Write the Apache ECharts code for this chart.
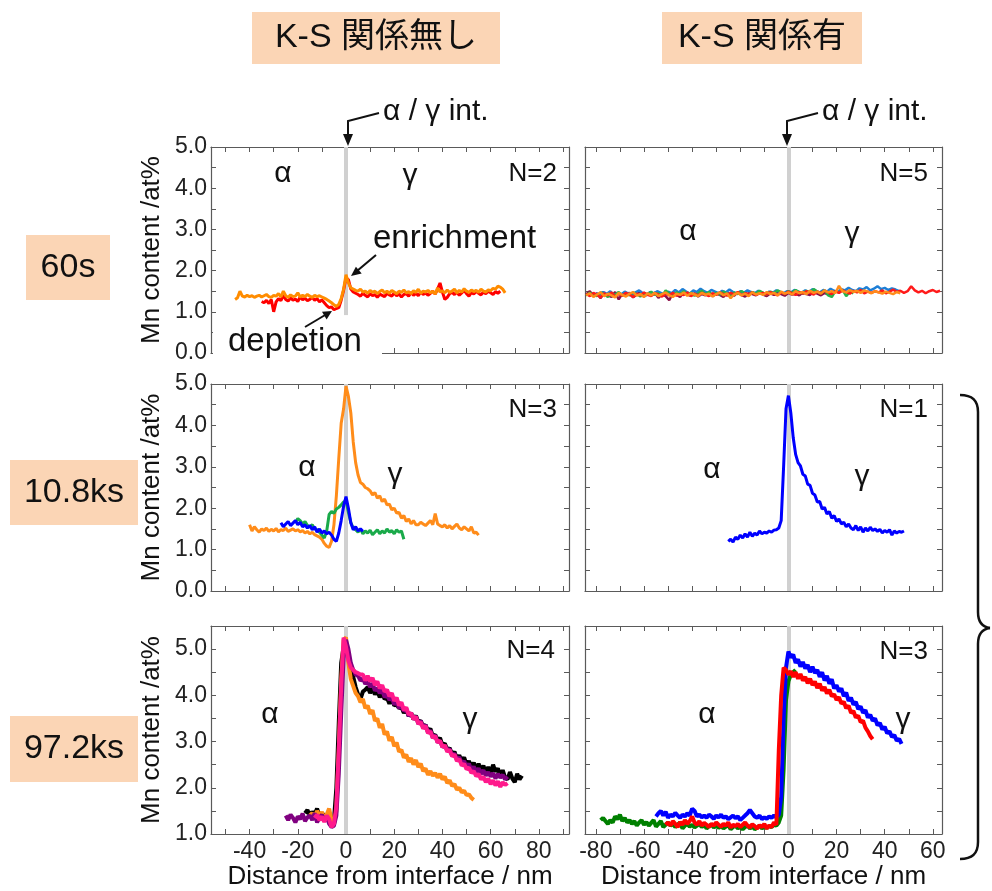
<!DOCTYPE html>
<html>
<head>
<meta charset="utf-8">
<script src="https://cdn.jsdelivr.net/npm/echarts@6/dist/echarts.min.js"></script>
<style>
html, body { margin: 0; padding: 0; background: #fff; }
#container { width: 992px; height: 891px; }
</style>
</head>
<body>
<div id="container"></div>
<script>
// ---- data (x in nm, y in at% Mn) ----
var interfaceX = 0;

var xTicksL = [-50, -40, -30, -20, -10, 0, 10, 20, 30, 40, 50, 60, 70, 80, 90];
var xLabelsL = [-40, -20, 0, 20, 40, 60, 80];
var xTicksR = [-80, -70, -60, -50, -40, -30, -20, -10, 0, 10, 20, 30, 40, 50, 60];
var xLabelsR = [-80, -60, -40, -20, 0, 20, 40, 60];
var yTicksA = [0, 0.5, 1, 1.5, 2, 2.5, 3, 3.5, 4, 4.5, 5];
var yLabelsA = [0, 1, 2, 3, 4, 5];
var yTicksB = [1, 1.5, 2, 2.5, 3, 3.5, 4, 4.5, 5];
var yLabelsB = [1, 2, 3, 4, 5];

// 60s, K-S none (N=2)
var s60_orange = [
  1.30,1.34,1.50,1.38,1.36,1.40,1.37,1.39,1.35,1.38,
  1.40,1.36,1.39,1.42,1.37,1.35,1.40,1.38,1.44,1.36,
  1.50,1.39,1.35,1.41,1.37,1.38,1.46,1.36,1.40,1.37,
  1.42,1.38,1.35,1.40,1.37,1.39,1.36,1.33,1.30,1.26,
  1.22,1.17,1.13,1.18,1.32,1.55,1.90,1.70,1.58,1.55,
  1.52,1.50,1.55,1.48,1.50,1.45,1.52,1.47,1.50,1.44,
  1.49,1.53,1.46,1.50,1.45,1.52,1.48,1.44,1.50,1.47,
  1.53,1.46,1.49,1.44,1.51,1.47,1.55,1.45,1.50,1.48,
  1.52,1.46,1.50,1.43,1.58,1.48,1.51,1.46,1.53,1.47,
  1.50,1.55,1.46,1.52,1.48,1.56,1.50,1.47,1.53,1.49,
  1.52,1.47,1.55,1.50,1.48,1.53,1.51,1.57,1.55,1.62,
  1.60,1.55,1.46];
var s60_red = [
  1.25,1.22,1.28,1.20,1.30,1.00,1.24,1.32,1.27,1.40,
  1.30,1.26,1.34,1.28,1.31,1.25,1.36,1.29,1.33,1.27,
  1.30,1.35,1.28,1.32,1.24,1.29,1.22,1.15,1.10,1.12,
  1.05,1.08,1.10,1.28,1.52,1.82,1.78,1.55,1.48,1.45,
  1.42,1.38,1.45,1.40,1.36,1.44,1.39,1.42,1.35,1.43,
  1.40,1.37,1.45,1.41,1.38,1.46,1.39,1.43,1.36,1.42,
  1.44,1.38,1.47,1.40,1.45,1.39,1.48,1.42,1.46,1.40,
  1.45,1.50,1.43,1.55,1.70,1.48,1.30,1.35,1.44,1.47,
  1.42,1.48,1.40,1.46,1.52,1.44,1.38,1.47,1.43,1.50,
  1.45,1.41,1.48,1.44,1.50,1.46,1.42,1.49,1.45,1.50];

// 60s, K-S (N=5)
var s60ks_maroon = [
  1.42,1.50,1.38,1.45,1.33,1.47,1.40,1.36,1.48,1.30,
  1.44,1.39,1.46,1.35,1.42,1.49,1.37,1.44,1.40,1.47,
  1.34,1.43,1.38,1.28,1.45,1.41,1.36,1.48,1.42,1.39,
  1.45,1.37,1.43,1.40,1.47,1.38,1.44,1.41,1.36,1.46,
  1.42,1.39,1.48,1.41,1.37,1.45,1.43,1.40,1.47,1.42,
  1.38,1.45,1.41,1.48,1.43,1.39,1.46,1.42,1.44,1.40,
  1.47,1.43,1.41,1.49,1.44,1.40,1.46,1.42,1.45,1.48];
var s60ks_blue = [
  1.45,1.40,1.48,1.43,1.50,1.38,1.46,1.42,1.49,1.44,
  1.41,1.47,1.52,1.45,1.40,1.48,1.44,1.50,1.46,1.42,
  1.49,1.45,1.53,1.47,1.55,1.49,1.44,1.52,1.48,1.56,
  1.50,1.46,1.53,1.49,1.45,1.51,1.47,1.54,1.48,1.44,
  1.50,1.46,1.52,1.48,1.45,1.51,1.47,1.43,1.49,1.46,
  1.52,1.48,1.45,1.50,1.47,1.53,1.49,1.46,1.52,1.48,
  1.55,1.50,1.47,1.53,1.49,1.56,1.51,1.48,1.55,1.52,
  1.58,1.53,1.50,1.57,1.54,1.60,1.52,1.56,1.62,1.55,
  1.58,1.53,1.57,1.54,1.50];
var s60ks_green = [
  1.40,1.46,1.43,1.38,1.47,1.42,1.36,1.45,1.41,1.48,
  1.39,1.44,1.40,1.47,1.43,1.37,1.46,1.42,1.49,1.41,
  1.45,1.38,1.52,1.44,1.40,1.47,1.43,1.50,1.42,1.46,
  1.39,1.45,1.51,1.43,1.48,1.41,1.46,1.42,1.49,1.44,
  1.40,1.47,1.43,1.50,1.45,1.41,1.48,1.44,1.51,1.46,
  1.42,1.49,1.45,1.52,1.47,1.43,1.50,1.46,1.53,1.48,
  1.44,1.51,1.47,1.55,1.49,1.45,1.52,1.40,1.36,1.50,
  1.47,1.53,1.38,1.49,1.45];
var s60ks_red = [
  1.44,1.38,1.46,1.41,1.35,1.45,1.40,1.47,1.37,1.43,
  1.39,1.46,1.42,1.36,1.44,1.40,1.47,1.41,1.38,1.45,
  1.42,1.37,1.44,1.40,1.46,1.39,1.43,1.41,1.47,1.38,
  1.44,1.40,1.46,1.42,1.38,1.45,1.41,1.47,1.43,1.39,
  1.46,1.42,1.48,1.40,1.45,1.43,1.47,1.41,1.44,1.46,
  1.42,1.48,1.44,1.40,1.47,1.43,1.49,1.45,1.41,1.48,
  1.44,1.50,1.46,1.42,1.49,1.45,1.51,1.47,1.43,1.50,
  1.46,1.52,1.48,1.44,1.51,1.47,1.53,1.45,1.49,1.46,
  1.50,1.47,1.52,1.45,1.49,1.54,1.48,1.51,1.46,1.50,
  1.62,1.52,1.47,1.51,1.45,1.50,1.53,1.48,1.51];
var s60ks_orange = [
  1.40,1.45,1.36,1.42,1.47,1.38,1.44,1.40,1.35,1.46,
  1.41,1.37,1.44,1.48,1.39,1.43,1.36,1.45,1.40,1.46,
  1.38,1.43,1.47,1.40,1.36,1.44,1.41,1.47,1.39,1.45,
  1.42,1.38,1.46,1.41,1.44,1.37,1.43,1.47,1.40,1.45,
  1.33,1.42,1.46,1.40,1.44,1.38,1.47,1.42,1.45,1.41,
  1.48,1.43,1.46,1.40,1.49,1.44,1.47,1.42,1.50,1.45,
  1.48,1.43,1.51,1.46,1.49,1.44,1.52,1.47,1.50,1.45,
  1.63,1.50,1.47,1.53,1.48,1.51,1.46,1.52,1.49,1.45,
  1.50,1.47,1.44,1.49,1.46,1.43,1.48,1.45];

// 10.8ks, K-S none (N=3)
var s108_orange = [
  1.60,1.45,1.55,1.48,1.42,1.50,1.46,1.52,1.44,1.49,
  1.45,1.51,1.43,1.48,1.46,1.52,1.44,1.47,1.50,1.45,
  1.48,1.43,1.46,1.40,1.44,1.38,1.42,1.36,1.33,1.30,
  1.25,1.15,1.08,1.05,1.20,1.60,2.30,3.20,4.05,4.40,
  4.95,4.70,4.30,3.60,3.10,2.80,2.62,2.58,2.50,2.47,
  2.42,2.32,2.38,2.24,2.30,2.16,2.22,2.08,2.10,1.96,
  2.00,1.88,1.90,1.76,1.82,1.68,1.74,1.62,1.70,1.60,
  1.60,1.66,1.62,1.58,1.64,1.70,1.60,1.87,1.62,1.58,
  1.55,1.60,1.52,1.58,1.50,1.56,1.62,1.52,1.48,1.55,
  1.50,1.45,1.55,1.40,1.42,1.35];
var s108_green = [
  1.65,1.75,1.70,1.62,1.68,1.58,1.55,1.60,1.50,1.48,
  1.42,1.35,1.28,1.45,1.85,1.92,1.88,1.98,2.02,2.08,
  2.15,2.18,1.90,1.65,1.52,1.48,1.42,1.50,1.38,1.45,
  1.40,1.47,1.36,1.42,1.48,1.38,1.45,1.40,1.50,1.42,
  1.46,1.38,1.48,1.42,1.45,1.25];
var s108_blue = [
  1.65,1.55,1.62,1.68,1.58,1.64,1.70,1.60,1.66,1.55,
  1.60,1.52,1.58,1.48,1.55,1.42,1.50,1.40,1.45,1.38,
  1.42,1.35,1.25,1.20,1.40,1.70,2.05,2.28,2.00,1.65,
  1.48,1.55,1.45,1.50,1.44];

// 10.8ks, K-S (N=1)
var s108ks_blue = [
  1.20,1.25,1.18,1.30,1.25,1.35,1.28,1.38,1.30,1.42,
  1.32,1.40,1.35,1.45,1.38,1.42,1.40,1.45,1.42,1.47,
  1.48,1.52,1.70,3.00,4.40,4.72,4.30,3.70,3.30,3.10,
  3.02,2.82,2.78,2.58,2.55,2.36,2.32,2.15,2.16,1.98,
  2.02,1.86,1.92,1.76,1.82,1.68,1.74,1.62,1.66,1.55,
  1.62,1.52,1.48,1.58,1.46,1.55,1.42,1.52,1.45,1.54,
  1.46,1.50,1.44,1.49,1.40,1.46,1.42,1.48,1.35,1.45,
  1.40,1.44,1.42,1.45];

// 97.2ks, K-S none (N=4)
var s972_black = [
  1.45,1.52,1.40,1.48,1.42,1.55,1.38,1.45,1.40,1.35,
  1.28,1.20,1.30,2.00,3.40,4.70,5.05,5.10,4.85,4.60,
  4.40,4.18,4.02,3.92,4.08,4.12,4.18,4.05,4.15,4.02,
  4.10,3.96,4.05,3.92,3.95,3.82,3.92,3.78,3.80,3.72,
  3.75,3.62,3.70,3.55,3.62,3.48,3.56,3.42,3.45,3.32,
  3.36,3.22,3.28,3.12,3.15,3.02,3.08,2.92,2.96,2.82,
  2.86,2.72,2.78,2.62,2.70,2.58,2.66,2.50,2.58,2.46,
  2.54,2.40,2.52,2.36,2.48,2.32,2.45,2.30,2.50,2.35,
  2.42,2.26,2.38,2.22,2.18,2.34,2.20,2.12,2.30,2.18,
  2.26];
var s972_orange = [
  1.40,1.45,1.35,1.50,1.38,1.48,1.32,1.42,1.55,1.30,
  1.20,1.50,2.80,4.30,5.20,5.25,4.70,4.35,4.20,4.05,
  3.98,3.85,3.92,3.72,3.78,3.60,3.68,3.45,3.50,3.30,
  3.38,3.15,3.22,3.02,3.10,2.90,2.98,2.78,2.82,2.65,
  2.72,2.56,2.64,2.50,2.60,2.45,2.52,2.36,2.42,2.28,
  2.36,2.26,2.32,2.22,2.30,2.18,2.24,2.10,2.16,2.04,
  2.08,1.96,2.00,1.90,1.94,1.84,1.86,1.78,1.74];
var s972_purple = [
  1.40,1.30,1.42,1.35,1.25,1.38,1.32,1.44,1.28,1.36,
  1.40,1.30,1.45,1.25,1.35,1.42,1.28,1.38,1.22,1.15,
  1.18,1.40,2.30,3.60,4.80,5.20,5.00,4.70,4.55,4.45,
  4.42,4.32,4.36,4.25,4.30,4.18,4.26,4.10,4.16,4.05,
  4.12,3.96,4.02,3.90,3.96,3.80,3.88,3.72,3.78,3.66,
  3.70,3.55,3.62,3.48,3.55,3.38,3.45,3.30,3.36,3.20,
  3.24,3.08,3.14,2.98,3.02,2.88,2.92,2.80,2.84,2.70,
  2.74,2.62,2.66,2.52,2.58,2.45,2.52,2.38,2.46,2.34,
  2.42,2.30,2.38,2.26,2.34,2.24,2.32,2.20,2.30,2.22,
  2.28,2.18,2.24];
var s972_pink = [
  1.35,1.42,1.30,1.38,1.26,1.40,1.32,1.15,1.22,1.60,
  2.80,4.20,5.25,5.05,4.75,4.60,4.55,4.50,4.48,4.45,
  4.45,4.32,4.42,4.30,4.38,4.22,4.30,4.15,4.22,4.08,
  4.12,3.98,4.05,3.88,3.95,3.78,3.85,3.68,3.74,3.58,
  3.62,3.48,3.54,3.38,3.42,3.28,3.34,3.18,3.22,3.08,
  3.12,2.98,3.02,2.88,2.92,2.78,2.82,2.68,2.72,2.58,
  2.62,2.48,2.52,2.40,2.44,2.32,2.36,2.25,2.30,2.18,
  2.24,2.12,2.20,2.08,2.16,2.05,2.14,2.02,2.12,2.06,
  2.10];

// 97.2ks, K-S (N=3)
var s972ks_green = [
  1.30,1.35,1.28,1.22,1.30,1.25,1.38,1.32,1.42,1.28,
  1.35,1.25,1.30,1.22,1.28,1.18,1.25,1.30,1.20,1.26,
  1.18,1.24,1.30,1.16,1.22,1.28,1.15,1.20,1.25,1.18,
  1.22,1.15,1.20,1.25,1.12,1.18,1.22,1.16,1.20,1.14,
  1.18,1.22,1.15,1.20,1.12,1.17,1.21,1.14,1.19,1.13,
  1.18,1.12,1.16,1.20,1.10,1.15,1.18,1.12,1.16,1.10,
  1.15,1.19,1.12,1.17,1.10,1.14,1.18,1.12,1.16,1.13,
  1.17,1.15,1.20,1.18,1.25,1.40,2.40,3.90,4.30,4.45,
  4.50,4.55];
var s972ks_blue = [
  1.38,1.45,1.50,1.40,1.48,1.35,1.42,1.38,1.46,1.40,
  1.35,1.42,1.38,1.45,1.40,1.55,1.50,1.38,1.42,1.36,
  1.40,1.35,1.42,1.38,1.33,1.40,1.36,1.42,1.35,1.38,
  1.32,1.36,1.40,1.34,1.38,1.30,1.35,1.40,1.45,1.52,
  1.45,1.38,1.35,1.40,1.32,1.36,1.33,1.38,1.35,1.40,
  1.36,1.42,1.80,3.50,4.60,4.95,
  4.82,4.88,4.70,4.78,4.62,4.72,4.58,4.66,4.50,4.62,
  4.48,4.55,4.40,4.50,4.32,4.42,4.25,4.35,4.15,4.22,
  4.08,4.15,3.98,4.06,3.88,3.95,3.80,3.86,3.70,3.76,
  3.62,3.68,3.52,3.58,3.45,3.50,3.35,3.40,3.26,3.32,
  3.18,3.22,3.10,3.14,3.02,3.06,2.95];
var s972ks_red = [
  1.20,1.25,1.18,1.28,1.22,1.15,1.26,1.20,1.30,1.22,
  1.28,1.38,1.25,1.20,1.28,1.18,1.24,1.20,1.15,1.22,
  1.18,1.25,1.20,1.16,1.22,1.18,1.25,1.14,1.20,1.17,
  1.22,1.15,1.20,1.25,1.18,1.14,1.21,1.17,1.12,1.19,
  1.15,1.22,1.12,1.18,1.15,1.25,1.20,2.80,4.00,4.60,
  4.55,
  4.45,4.52,4.40,4.50,4.36,4.46,4.32,4.40,4.26,4.36,
  4.22,4.30,4.16,4.25,4.10,4.18,4.04,4.12,3.98,4.02,
  3.90,3.96,3.82,3.86,3.72,3.78,3.62,3.66,3.52,3.56,
  3.42,3.45,3.30,3.22,3.12,3.05];

// each profile: panel, first x (nm), step (nm), values, colour, width
var profiles = [
  {p: 0, x0: -35, dx: 1,   y: s60_red,       color: '#ff0000', w: 3},
  {p: 0, x0: -46, dx: 1,   y: s60_orange,    color: '#ff8c00', w: 3},
  {p: 1, x0: -84, dx: 1.5, y: s60ks_maroon,  color: '#8b1048', w: 2.5},
  {p: 1, x0: -80, dx: 1.5, y: s60ks_blue,    color: '#1e7fd6', w: 2.5},
  {p: 1, x0: -84, dx: 1.5, y: s60ks_green,   color: '#27b34a', w: 2.5},
  {p: 1, x0: -84, dx: 1.5, y: s60ks_red,     color: '#ff1a1a', w: 2.5},
  {p: 1, x0: -84, dx: 1.5, y: s60ks_orange,  color: '#ff8c1a', w: 2.5},
  {p: 2, x0: -40, dx: 1,   y: s108_orange,   color: '#ff8c1a', w: 3},
  {p: 2, x0: -21, dx: 1,   y: s108_green,    color: '#1aaa4a', w: 3},
  {p: 2, x0: -27, dx: 1,   y: s108_blue,     color: '#0000ff', w: 3},
  {p: 3, x0: -25, dx: 1,   y: s108ks_blue,   color: '#0000ff', w: 3},
  {p: 4, x0: -17, dx: 1,   y: s972_black,    color: '#000000', w: 4},
  {p: 4, x0: -15, dx: 1,   y: s972_orange,   color: '#ff8c1a', w: 4},
  {p: 4, x0: -25, dx: 1,   y: s972_purple,   color: '#800080', w: 4},
  {p: 4, x0: -13, dx: 1,   y: s972_pink,     color: '#ff1a8c', w: 4},
  {p: 5, x0: -78, dx: 1,   y: s972ks_green,  color: '#008000', w: 4},
  {p: 5, x0: -55, dx: 1,   y: s972ks_blue,   color: '#0000ff', w: 4},
  {p: 5, x0: -51, dx: 1,   y: s972ks_red,    color: '#ff0000', w: 4}
];

// ---- layout ----
var FONT = "'Liberation Sans', 'Noto Sans CJK JP', sans-serif";
var AX = '#5a5a5a';
var panels = [
  {left: 211, top: 147, width: 358, height: 206, xr: [-56, 92.5], xt: xTicksL, xl: null, yr: [0, 5], yt: yTicksA, yl: yLabelsA},
  {left: 585, top: 147, width: 357, height: 206, xr: [-84.5, 63.8], xt: xTicksR, xl: null, yr: [0, 5], yt: yTicksA, yl: null},
  {left: 211, top: 384, width: 358, height: 207, xr: [-56, 92.5], xt: xTicksL, xl: null, yr: [0, 5], yt: yTicksA, yl: yLabelsA},
  {left: 585, top: 384, width: 357, height: 207, xr: [-84.5, 63.8], xt: xTicksR, xl: null, yr: [0, 5], yt: yTicksA, yl: null},
  {left: 211, top: 626, width: 358, height: 208, xr: [-56, 92.5], xt: xTicksL, xl: xLabelsL, yr: [1, 5.5], yt: yTicksB, yl: yLabelsB},
  {left: 585, top: 626, width: 357, height: 208, xr: [-84.5, 63.8], xt: xTicksR, xl: xLabelsR, yr: [1, 5.5], yt: yTicksB, yl: null}
];

var grids = [], xAxes = [], yAxes = [], series = [];

panels.forEach(function (p, i) {
  grids.push({left: p.left, top: p.top, width: p.width, height: p.height, show: false});
  var line = {show: true, onZero: false, lineStyle: {color: AX, width: 1.2}};
  var tickX = {show: true, inside: true, length: 5, customValues: p.xt, lineStyle: {color: AX, width: 1}};
  var tickY = {show: true, inside: true, length: 5, customValues: p.yt, lineStyle: {color: AX, width: 1}};
  xAxes.push({
    type: 'value', gridIndex: i, position: 'bottom', min: p.xr[0], max: p.xr[1],
    axisLine: line, axisTick: tickX, splitLine: {show: false},
    axisLabel: {show: !!p.xl, customValues: p.xl || [], color: '#222', fontSize: 23, margin: 6, fontFamily: FONT},
    name: p.xl ? 'Distance from interface / nm' : '', nameLocation: 'middle', nameGap: 30,
    nameTextStyle: {fontSize: 26, color: '#111', fontFamily: FONT}
  });
  xAxes.push({
    type: 'value', gridIndex: i, position: 'top', min: p.xr[0], max: p.xr[1],
    axisLine: line, axisTick: tickX, splitLine: {show: false}, axisLabel: {show: false}
  });
  yAxes.push({
    type: 'value', gridIndex: i, position: 'left', min: p.yr[0], max: p.yr[1],
    axisLine: line, axisTick: tickY, splitLine: {show: false},
    axisLabel: {show: !!p.yl, customValues: p.yl || [], color: '#222', fontSize: 23, margin: 4, fontFamily: FONT,
      formatter: function (v) { return v.toFixed(1); }},
    name: p.yl ? 'Mn content /at%' : '', nameLocation: 'middle', nameGap: 46,
    nameTextStyle: {fontSize: 26, color: '#111', fontFamily: FONT}
  });
  yAxes.push({
    type: 'value', gridIndex: i, position: 'right', min: p.yr[0], max: p.yr[1],
    axisLine: line, axisTick: tickY, splitLine: {show: false}, axisLabel: {show: false}
  });
  // interface band
  series.push({
    type: 'line', xAxisIndex: 2 * i, yAxisIndex: 2 * i, data: [], silent: true,
    markLine: {
      z: 1, silent: true, symbol: 'none', label: {show: false},
      lineStyle: {color: '#d0d0d0', width: 4, type: 'solid'},
      emphasis: {disabled: true},
      data: i === 0 ? [[{coord: [interfaceX, 0.92]}, {coord: [interfaceX, 5]}]] : [{xAxis: interfaceX}]
    }
  });
});

profiles.forEach(function (s) {
  series.push({
    type: 'line', xAxisIndex: 2 * s.p, yAxisIndex: 2 * s.p, showSymbol: false, symbol: 'none',
    z: 2, silent: true,
    lineStyle: {color: s.color, width: s.w}, itemStyle: {color: s.color},
    data: s.y.map(function (v, k) { return [s.x0 + k * s.dx, v]; })
  });
});

// ---- annotations ----
function txt(t, x, y, size, align) {
  return {type: 'text', z: 60, style: {text: t, x: x, y: y, fill: '#111',
    font: size + 'px ' + FONT, textAlign: align || 'center', textVerticalAlign: 'middle'}};
}
function box(t, x, y, w, h, size) {
  return [
    {type: 'rect', z: 50, shape: {x: x, y: y, width: w, height: h}, style: {fill: '#fbd5b5'}},
    txt(t, x + w / 2, y + h / 2, size)
  ];
}
function seg(pts, wd) {
  return {type: 'polyline', z: 60, shape: {points: pts}, style: {stroke: '#111', lineWidth: wd || 2, fill: null}};
}
function head(pts) {
  return {type: 'polygon', z: 60, shape: {points: pts}, style: {fill: '#111'}};
}
function curve(x1, y1, c1x, c1y, c2x, c2y, x2, y2) {
  return {type: 'bezierCurve', z: 60,
    shape: {x1: x1, y1: y1, cpx1: c1x, cpy1: c1y, cpx2: c2x, cpy2: c2y, x2: x2, y2: y2},
    style: {stroke: '#111', lineWidth: 2.5, fill: null}};
}

var graphics = [].concat(
  box('K-S 関係無し', 252, 12, 248, 52, 34),
  box('K-S 関係有', 662, 12, 200, 52, 34),
  box('60s', 26, 235, 84, 65, 34),
  box('10.8ks', 10, 460, 128, 65, 34),
  box('97.2ks', 10, 716, 128, 66, 34),
  [
    txt('α / γ int.', 383, 112, 30, 'left'),
    seg([[379, 113], [348, 121], [348, 136]]),
    head([[348, 146], [343, 134], [353, 134]]),
    txt('α / γ int.', 822, 112, 30, 'left'),
    seg([[818, 113], [787, 121], [787, 136]]),
    head([[787, 146], [782, 134], [792, 134]]),
    {type: 'rect', z: 55, shape: {x: 213, y: 328, width: 169, height: 32}, style: {fill: '#fff'}},
    txt('depletion', 228, 342, 33, 'left'),
    txt('enrichment', 373, 239, 33, 'left'),
    seg([[376, 255], [357, 271]]),
    head([[351, 276], [361.7, 273.5], [355.9, 266.7]]),
    seg([[305, 327], [326, 314.5]]),
    head([[332, 311], [326.6, 319.5], [322, 311.7]]),
    txt('α', 283, 174, 30), txt('γ', 410, 176, 30), txt('N=2', 557, 174, 26, 'right'),
    txt('α', 688, 232, 30), txt('γ', 852, 234, 30), txt('N=5', 928, 174, 26, 'right'),
    txt('α', 307, 468, 30), txt('γ', 395, 475, 30), txt('N=3', 557, 410, 26, 'right'),
    txt('α', 712, 470, 30), txt('γ', 862, 477, 30), txt('N=1', 928, 410, 26, 'right'),
    txt('α', 270, 715, 30), txt('γ', 470, 720, 30), txt('N=4', 555, 651, 26, 'right'),
    txt('α', 707, 715, 30), txt('γ', 903, 720, 30), txt('N=3', 928, 652, 26, 'right'),
    curve(960, 395, 972, 395, 978, 400, 978, 412),
    seg([[978, 412], [978, 612]], 2.5),
    curve(978, 612, 978, 622, 982, 627, 990, 628),
    curve(990, 628, 982, 629, 978, 634, 978, 644),
    seg([[978, 644], [978, 842]], 2.5),
    curve(978, 842, 978, 854, 972, 859, 960, 859)
  ]
);

var dom = document.getElementById('container');
var myChart = echarts.init(dom);
var option = {
  animation: false,
  backgroundColor: '#fff',
  grid: grids,
  xAxis: xAxes,
  yAxis: yAxes,
  series: series,
  graphic: {elements: graphics}
};
myChart.setOption(option, true);
</script>
</body>
</html>
